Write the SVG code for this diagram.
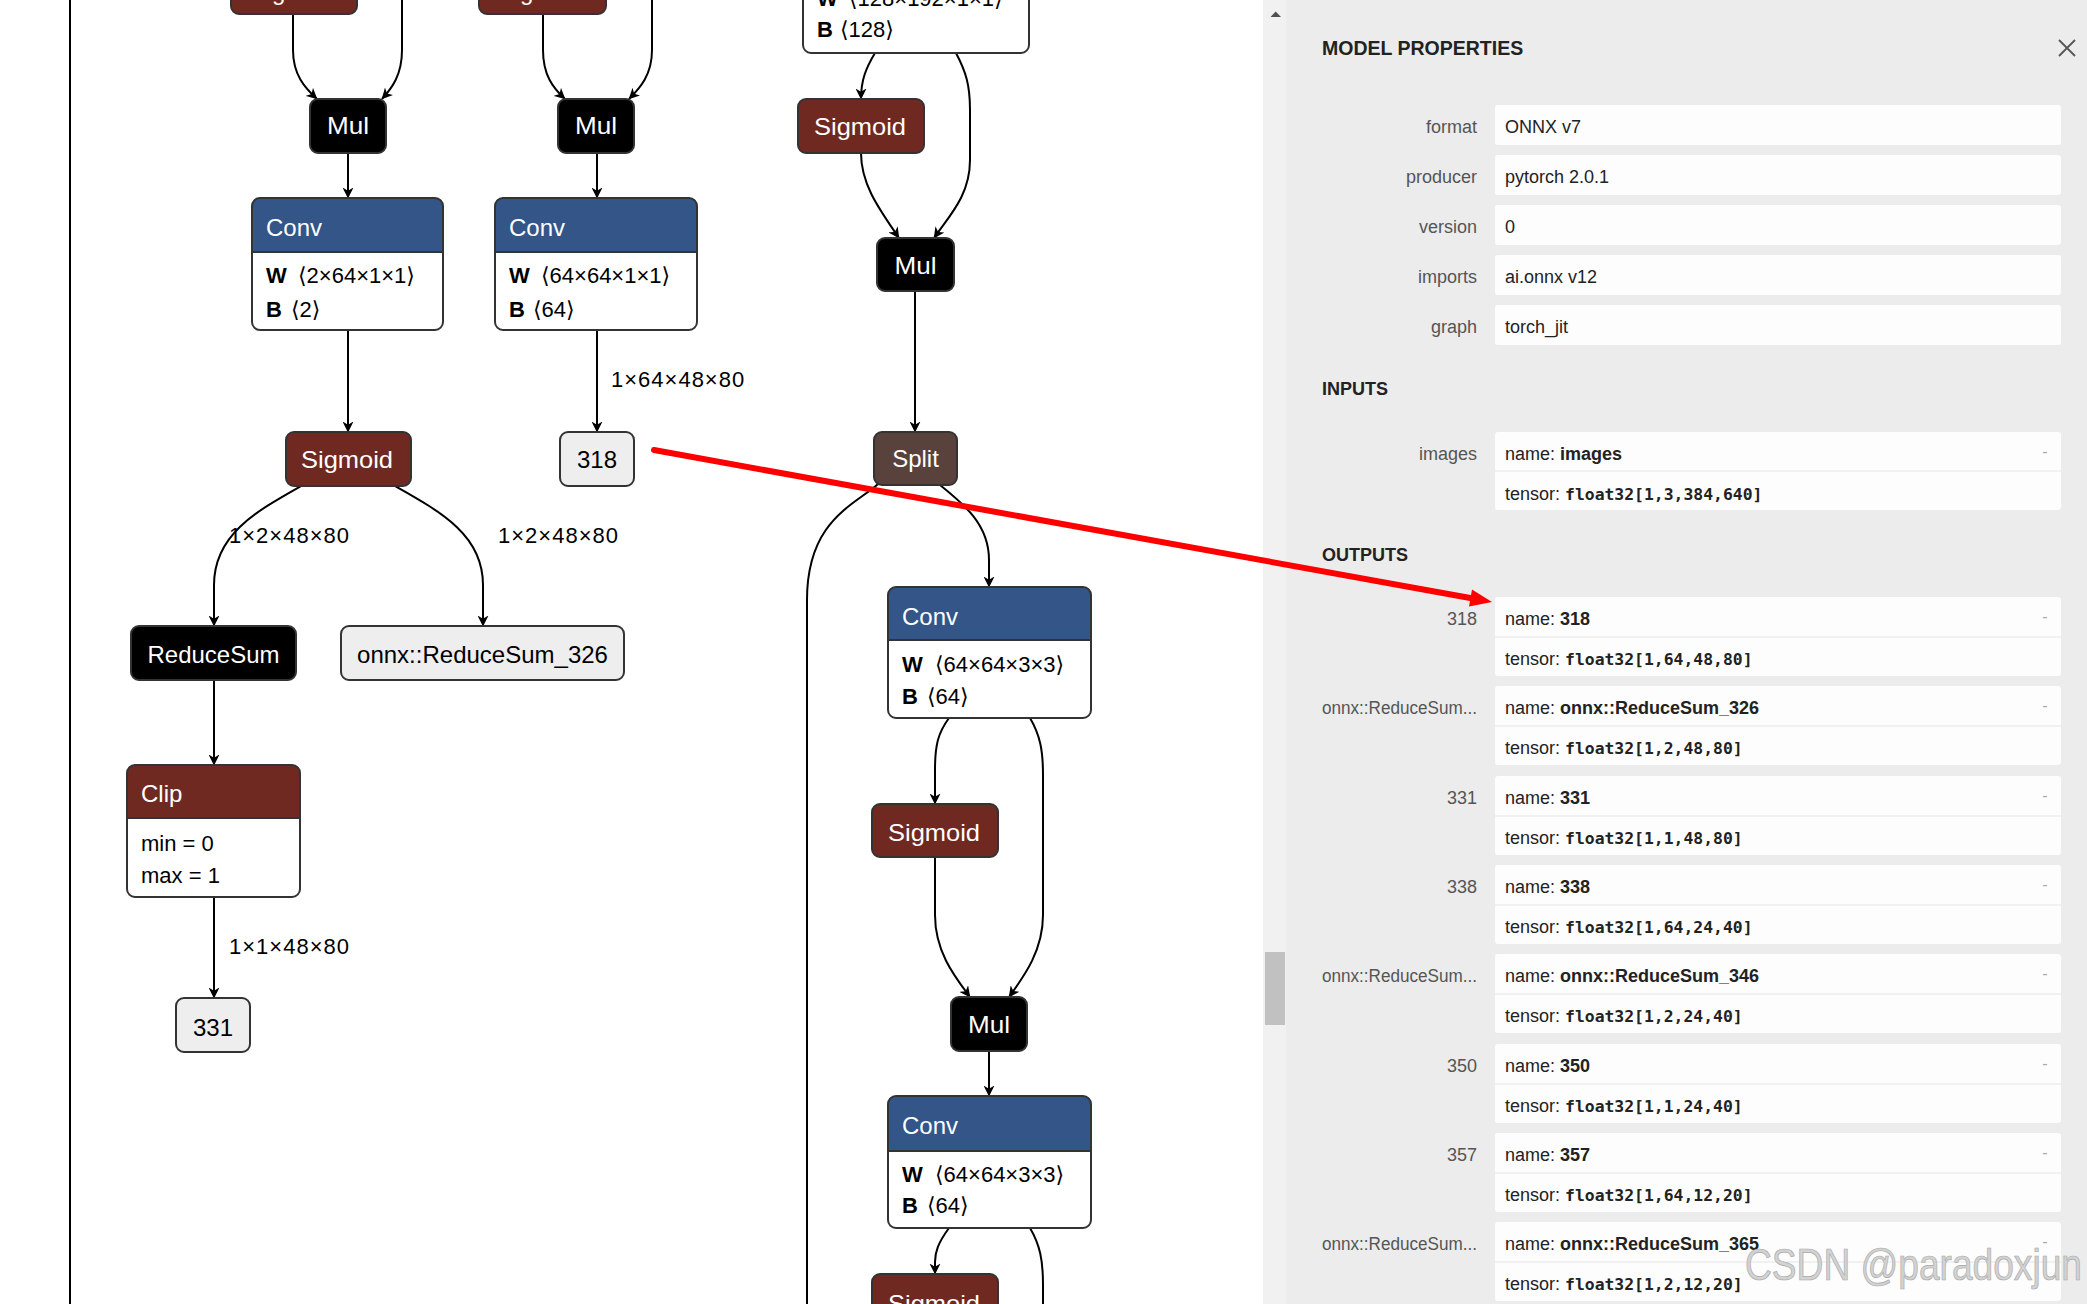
<svg xmlns="http://www.w3.org/2000/svg" width="2087" height="1304" viewBox="0 0 2087 1304">
<defs>
<style>
.edge{fill:none;stroke:#000;stroke-width:2}
.arr{marker-end:url(#arrow)}
.nb{stroke:#333;stroke-width:2}
.title{font-family:"Liberation Sans","DejaVu Sans",sans-serif;font-size:24px;fill:#fff}
.dark{font-family:"Liberation Sans","DejaVu Sans",sans-serif;font-size:24px;fill:#000}
.attr{font-family:"Liberation Sans","DejaVu Sans",sans-serif;font-size:22px;fill:#000}
.attrb{font-family:"Liberation Sans","DejaVu Sans",sans-serif;font-size:22px;font-weight:bold;fill:#000}
.lbl{font-family:"Liberation Sans","DejaVu Sans",sans-serif;font-size:22px;letter-spacing:1px;fill:#000}
.conv{fill:#335588}
.act{fill:#702921}
.blk{fill:#000}
.split{fill:#5a423c}
.io{fill:#eeeeee}
.white{fill:#fff}
.pl{font-family:"Liberation Sans","DejaVu Sans",sans-serif;font-size:18px;fill:#555;text-anchor:end}
.pv{font-family:"Liberation Sans","DejaVu Sans",sans-serif;font-size:18px;fill:#222}
.pvb{font-weight:bold}
.mono{font-family:"DejaVu Sans Mono","Liberation Mono",monospace;font-size:16.4px;font-weight:bold;fill:#222}
.hdr{font-family:"Liberation Sans","DejaVu Sans",sans-serif;font-weight:bold;fill:#222}
.box{fill:#fdfdfd}
.div{stroke:#ececec;stroke-width:1.5}
.dash{font-family:"Liberation Sans","DejaVu Sans",sans-serif;font-size:16px;fill:#aaa;text-anchor:middle}
</style>
<marker id="arrow" markerUnits="userSpaceOnUse" markerWidth="12" markerHeight="11" refX="10.5" refY="5.5" orient="auto">
<path d="M0,0 L11,5.5 L0,11 L3.2,5.5 Z" fill="#000"/>
</marker>
</defs>

<rect x="0" y="0" width="2087" height="1304" fill="#fff"/>

<g id="connectors">
<path class="edge" d="M70,0 L70,1304"/>
<path class="edge arr" d="M293,14 L293,50 C293,75 305,88 317,99"/>
<path class="edge arr" d="M402,0 L402,50 C402,75 392,88 382,99"/>
<path class="edge arr" d="M348,153 L348,198"/>
<path class="edge arr" d="M348,330 L348,432"/>
<path class="edge arr" d="M543,14 L543,50 C543,75 553,88 565,99"/>
<path class="edge arr" d="M652,0 L652,50 C652,75 640,88 629,99"/>
<path class="edge arr" d="M597,153 L597,198"/>
<path class="edge arr" d="M597,330 L597,432"/>
<path class="edge arr" d="M301,486 C255,512 214,535 214,585 L214,626"/>
<path class="edge arr" d="M395,486 C441,512 483,535 483,585 L483,626"/>
<path class="edge arr" d="M214,680 L214,765"/>
<path class="edge arr" d="M214,897 L214,998"/>
<path class="edge arr" d="M875,53 C866,68 861,80 861,99"/>
<path class="edge arr" d="M956,53 C966,72 970,85 970,110 L970,160 C970,195 950,215 934,238"/>
<path class="edge arr" d="M861,153 C861,185 880,210 899,238"/>
<path class="edge arr" d="M915,291 L915,432"/>
<path class="edge" d="M878,484 C855,505 807,520 807,600 L807,1304"/>
<path class="edge arr" d="M940,485 C965,505 989,525 989,560 L989,587"/>
<path class="edge arr" d="M949,718 C938,733 935,745 935,770 L935,804"/>
<path class="edge arr" d="M1030,718 C1040,735 1043,750 1043,775 L1043,915 C1043,950 1025,975 1009,997"/>
<path class="edge arr" d="M935,857 L935,915 C935,952 955,977 970,997"/>
<path class="edge arr" d="M989,1051 L989,1096"/>
<path class="edge arr" d="M949,1228 C938,1243 935,1252 935,1262 L935,1274"/>
<path class="edge" d="M1030,1228 C1040,1245 1043,1260 1043,1285 L1043,1304"/>
<text class="lbl" x="611" y="387">1×64×48×80</text>
<text class="lbl" x="229" y="543">1×2×48×80</text>
<text class="lbl" x="498" y="543">1×2×48×80</text>
<text class="lbl" x="229" y="954">1×1×48×80</text>
</g>

<g id="node-sigmoid-top-a">
<rect class="act nb" x="231" y="-40" width="126" height="54" rx="8"/>
<text class="title" x="294" y="0" text-anchor="middle">Sigmoid</text>
</g>
<g id="node-sigmoid-top-b">
<rect class="act nb" x="479" y="-40" width="127" height="54" rx="8"/>
<text class="title" x="542" y="0" text-anchor="middle">Sigmoid</text>
</g>
<g id="node-mul-a">
<rect class="blk nb" x="310" y="99" width="76" height="54" rx="8"/>
<text class="title" x="348" y="134" text-anchor="middle" textLength="42" lengthAdjust="spacingAndGlyphs">Mul</text>
</g>
<g id="node-mul-b">
<rect class="blk nb" x="558" y="99" width="76" height="54" rx="8"/>
<text class="title" x="596" y="134" text-anchor="middle" textLength="42" lengthAdjust="spacingAndGlyphs">Mul</text>
</g>
<g id="node-conv-a">
<rect class="white" x="252" y="198" width="191" height="132" rx="8"/>
<path class="conv" d="M252,252 L252,206 Q252,198 260,198 L435,198 Q443,198 443,206 L443,252 Z"/>
<line class="nb" x1="252" y1="252" x2="443" y2="252"/>
<rect class="nb" x="252" y="198" width="191" height="132" rx="8" fill="none"/>
<text class="title" x="266" y="236">Conv</text>
<text class="attrb" x="266" y="283">W</text>
<text class="attr" x="298" y="283">⟨2×64×1×1⟩</text>
<text class="attrb" x="266" y="317">B</text>
<text class="attr" x="291" y="317">⟨2⟩</text>
</g>
<g id="node-conv-b">
<rect class="white" x="495" y="198" width="202" height="132" rx="8"/>
<path class="conv" d="M495,252 L495,206 Q495,198 503,198 L689,198 Q697,198 697,206 L697,252 Z"/>
<line class="nb" x1="495" y1="252" x2="697" y2="252"/>
<rect class="nb" x="495" y="198" width="202" height="132" rx="8" fill="none"/>
<text class="title" x="509" y="236">Conv</text>
<text class="attrb" x="509" y="283">W</text>
<text class="attr" x="541" y="283">⟨64×64×1×1⟩</text>
<text class="attrb" x="509" y="317">B</text>
<text class="attr" x="533" y="317">⟨64⟩</text>
</g>
<g id="node-sigmoid-a">
<rect class="act nb" x="286" y="432" width="125" height="54" rx="8"/>
<text class="title" x="347" y="468" text-anchor="middle" textLength="92" lengthAdjust="spacingAndGlyphs">Sigmoid</text>
</g>
<g id="node-318">
<rect class="io nb" x="560" y="432" width="74" height="54" rx="8"/>
<text class="dark" x="597" y="468" text-anchor="middle">318</text>
</g>
<g id="node-reducesum">
<rect class="blk nb" x="131" y="626" width="165" height="54" rx="8"/>
<text class="title" x="213.5" y="663" text-anchor="middle">ReduceSum</text>
</g>
<g id="node-onnx-reducesum-326">
<rect class="io nb" x="341" y="626" width="283" height="54" rx="8"/>
<text class="dark" x="482.5" y="663" text-anchor="middle">onnx::ReduceSum_326</text>
</g>
<g id="node-clip">
<rect class="white" x="127" y="765" width="173" height="132" rx="8"/>
<path class="act" d="M127,818 L127,773 Q127,765 135,765 L292,765 Q300,765 300,773 L300,818 Z"/>
<line class="nb" x1="127" y1="818" x2="300" y2="818"/>
<rect class="nb" x="127" y="765" width="173" height="132" rx="8" fill="none"/>
<text class="title" x="141" y="802">Clip</text>
<text class="attr" x="141" y="851">min = 0</text>
<text class="attr" x="141" y="883">max = 1</text>
</g>
<g id="node-331">
<rect class="io nb" x="176" y="998" width="74" height="54" rx="8"/>
<text class="dark" x="213" y="1036" text-anchor="middle">331</text>
</g>
<g id="node-conv-c">
<rect class="white nb" x="803" y="-100" width="226" height="153" rx="8"/>
<text class="attrb" x="817" y="6">W</text>
<text class="attr" x="849" y="6">⟨128×192×1×1⟩</text>
<text class="attrb" x="817" y="37">B</text>
<text class="attr" x="840" y="37">⟨128⟩</text>
</g>
<g id="node-sigmoid-c">
<rect class="act nb" x="798" y="99" width="126" height="54" rx="8"/>
<text class="title" x="860" y="135" text-anchor="middle" textLength="92" lengthAdjust="spacingAndGlyphs">Sigmoid</text>
</g>
<g id="node-mul-c">
<rect class="blk nb" x="877" y="238" width="77" height="53" rx="8"/>
<text class="title" x="915.5" y="274" text-anchor="middle" textLength="42" lengthAdjust="spacingAndGlyphs">Mul</text>
</g>
<g id="node-split">
<rect class="split nb" x="874" y="432" width="83" height="53" rx="8"/>
<text class="title" x="915.5" y="467" text-anchor="middle">Split</text>
</g>
<g id="node-conv-d">
<rect class="white" x="888" y="587" width="203" height="131" rx="8"/>
<path class="conv" d="M888,640 L888,595 Q888,587 896,587 L1083,587 Q1091,587 1091,595 L1091,640 Z"/>
<line class="nb" x1="888" y1="640" x2="1091" y2="640"/>
<rect class="nb" x="888" y="587" width="203" height="131" rx="8" fill="none"/>
<text class="title" x="902" y="625">Conv</text>
<text class="attrb" x="902" y="672">W</text>
<text class="attr" x="935" y="672">⟨64×64×3×3⟩</text>
<text class="attrb" x="902" y="704">B</text>
<text class="attr" x="927" y="704">⟨64⟩</text>
</g>
<g id="node-sigmoid-d">
<rect class="act nb" x="872" y="804" width="126" height="53" rx="8"/>
<text class="title" x="934" y="841" text-anchor="middle" textLength="92" lengthAdjust="spacingAndGlyphs">Sigmoid</text>
</g>
<g id="node-mul-d">
<rect class="blk nb" x="951" y="997" width="76" height="54" rx="8"/>
<text class="title" x="989" y="1033" text-anchor="middle" textLength="42" lengthAdjust="spacingAndGlyphs">Mul</text>
</g>
<g id="node-conv-e">
<rect class="white" x="888" y="1096" width="203" height="132" rx="8"/>
<path class="conv" d="M888,1151 L888,1104 Q888,1096 896,1096 L1083,1096 Q1091,1096 1091,1104 L1091,1151 Z"/>
<line class="nb" x1="888" y1="1151" x2="1091" y2="1151"/>
<rect class="nb" x="888" y="1096" width="203" height="132" rx="8" fill="none"/>
<text class="title" x="902" y="1134">Conv</text>
<text class="attrb" x="902" y="1182">W</text>
<text class="attr" x="935" y="1182">⟨64×64×3×3⟩</text>
<text class="attrb" x="902" y="1213">B</text>
<text class="attr" x="927" y="1213">⟨64⟩</text>
</g>
<g id="node-sigmoid-e">
<rect class="act nb" x="872" y="1274" width="126" height="60" rx="8"/>
<text class="title" x="934" y="1312" text-anchor="middle" textLength="92" lengthAdjust="spacingAndGlyphs">Sigmoid</text>
</g>

<g id="properties-panel">
<rect x="1263" y="0" width="824" height="1304" fill="#ececec"/>
<rect x="1263" y="0" width="23" height="1304" fill="#f1f1f1"/>
<rect x="1265" y="952" width="20" height="73" fill="#c1c1c1"/>
<path d="M1270.5,17 L1281,17 L1275.7,11.5 Z" fill="#505050"/>
<text class="hdr" x="1322" y="55" font-size="19.5">MODEL PROPERTIES</text>
<path d="M2059,40 L2075,56 M2075,40 L2059,56" stroke="#555" stroke-width="1.8" fill="none"/>

<rect class="box" x="1495" y="105" width="566" height="40" rx="3"/>
<text class="pl" x="1477" y="133">format</text>
<text class="pv" x="1505" y="133">ONNX v7</text>
<rect class="box" x="1495" y="155" width="566" height="40" rx="3"/>
<text class="pl" x="1477" y="183">producer</text>
<text class="pv" x="1505" y="183">pytorch 2.0.1</text>
<rect class="box" x="1495" y="205" width="566" height="40" rx="3"/>
<text class="pl" x="1477" y="233">version</text>
<text class="pv" x="1505" y="233">0</text>
<rect class="box" x="1495" y="255" width="566" height="40" rx="3"/>
<text class="pl" x="1477" y="283">imports</text>
<text class="pv" x="1505" y="283">ai.onnx v12</text>
<rect class="box" x="1495" y="305" width="566" height="40" rx="3"/>
<text class="pl" x="1477" y="333">graph</text>
<text class="pv" x="1505" y="333">torch_jit</text>

<text class="hdr" x="1322" y="395" font-size="18">INPUTS</text>
<rect class="box" x="1495" y="432" width="566" height="78" rx="3"/>
<line class="div" x1="1495" y1="471" x2="2061" y2="471"/>
<text class="pl" x="1477" y="460">images</text>
<text class="pv" x="1505" y="460">name: <tspan class="pvb">images</tspan></text>
<text class="pv" x="1505" y="500">tensor: <tspan class="mono">float32[1,3,384,640]</tspan></text>
<text class="dash" x="2045" y="457">-</text>

<text class="hdr" x="1322" y="561" font-size="18">OUTPUTS</text>

<rect class="box" x="1495" y="597" width="566" height="79" rx="3"/>
<line class="div" x1="1495" y1="637" x2="2061" y2="637"/>
<text class="pl" x="1477" y="625">318</text>
<text class="pv" x="1505" y="625">name: <tspan class="pvb">318</tspan></text>
<text class="pv" x="1505" y="665">tensor: <tspan class="mono">float32[1,64,48,80]</tspan></text>
<text class="dash" x="2045" y="622">-</text>

<rect class="box" x="1495" y="686" width="566" height="79" rx="3"/>
<line class="div" x1="1495" y1="726" x2="2061" y2="726"/>
<text class="pl" x="1477" y="714" textLength="155" lengthAdjust="spacingAndGlyphs">onnx::ReduceSum...</text>
<text class="pv" x="1505" y="714">name: <tspan class="pvb">onnx::ReduceSum_326</tspan></text>
<text class="pv" x="1505" y="754">tensor: <tspan class="mono">float32[1,2,48,80]</tspan></text>
<text class="dash" x="2045" y="711">-</text>

<rect class="box" x="1495" y="776" width="566" height="79" rx="3"/>
<line class="div" x1="1495" y1="816" x2="2061" y2="816"/>
<text class="pl" x="1477" y="804">331</text>
<text class="pv" x="1505" y="804">name: <tspan class="pvb">331</tspan></text>
<text class="pv" x="1505" y="844">tensor: <tspan class="mono">float32[1,1,48,80]</tspan></text>
<text class="dash" x="2045" y="801">-</text>

<rect class="box" x="1495" y="865" width="566" height="79" rx="3"/>
<line class="div" x1="1495" y1="905" x2="2061" y2="905"/>
<text class="pl" x="1477" y="893">338</text>
<text class="pv" x="1505" y="893">name: <tspan class="pvb">338</tspan></text>
<text class="pv" x="1505" y="933">tensor: <tspan class="mono">float32[1,64,24,40]</tspan></text>
<text class="dash" x="2045" y="890">-</text>

<rect class="box" x="1495" y="954" width="566" height="79" rx="3"/>
<line class="div" x1="1495" y1="994" x2="2061" y2="994"/>
<text class="pl" x="1477" y="982" textLength="155" lengthAdjust="spacingAndGlyphs">onnx::ReduceSum...</text>
<text class="pv" x="1505" y="982">name: <tspan class="pvb">onnx::ReduceSum_346</tspan></text>
<text class="pv" x="1505" y="1022">tensor: <tspan class="mono">float32[1,2,24,40]</tspan></text>
<text class="dash" x="2045" y="979">-</text>

<rect class="box" x="1495" y="1044" width="566" height="79" rx="3"/>
<line class="div" x1="1495" y1="1084" x2="2061" y2="1084"/>
<text class="pl" x="1477" y="1072">350</text>
<text class="pv" x="1505" y="1072">name: <tspan class="pvb">350</tspan></text>
<text class="pv" x="1505" y="1112">tensor: <tspan class="mono">float32[1,1,24,40]</tspan></text>
<text class="dash" x="2045" y="1069">-</text>

<rect class="box" x="1495" y="1133" width="566" height="79" rx="3"/>
<line class="div" x1="1495" y1="1173" x2="2061" y2="1173"/>
<text class="pl" x="1477" y="1161">357</text>
<text class="pv" x="1505" y="1161">name: <tspan class="pvb">357</tspan></text>
<text class="pv" x="1505" y="1201">tensor: <tspan class="mono">float32[1,64,12,20]</tspan></text>
<text class="dash" x="2045" y="1158">-</text>

<rect class="box" x="1495" y="1222" width="566" height="79" rx="3"/>
<line class="div" x1="1495" y1="1262" x2="2061" y2="1262"/>
<text class="pl" x="1477" y="1250" textLength="155" lengthAdjust="spacingAndGlyphs">onnx::ReduceSum...</text>
<text class="pv" x="1505" y="1250">name: <tspan class="pvb">onnx::ReduceSum_365</tspan></text>
<text class="pv" x="1505" y="1290">tensor: <tspan class="mono">float32[1,2,12,20]</tspan></text>
<text class="dash" x="2045" y="1247">-</text>
</g>

<g id="annotation">
<line x1="654" y1="450" x2="1473" y2="598.5" stroke="#ff0000" stroke-width="6" stroke-linecap="round"/>
<polygon points="1492,602 1469,606.5 1472,589.5" fill="#ff0000"/>
</g>

<text x="1745" y="1280" font-family="Liberation Sans, DejaVu Sans, sans-serif" font-size="44" textLength="337" lengthAdjust="spacingAndGlyphs" fill="#d2d2d2" stroke="#a8a8a8" stroke-width="0.7">CSDN @paradoxjun</text>
</svg>
